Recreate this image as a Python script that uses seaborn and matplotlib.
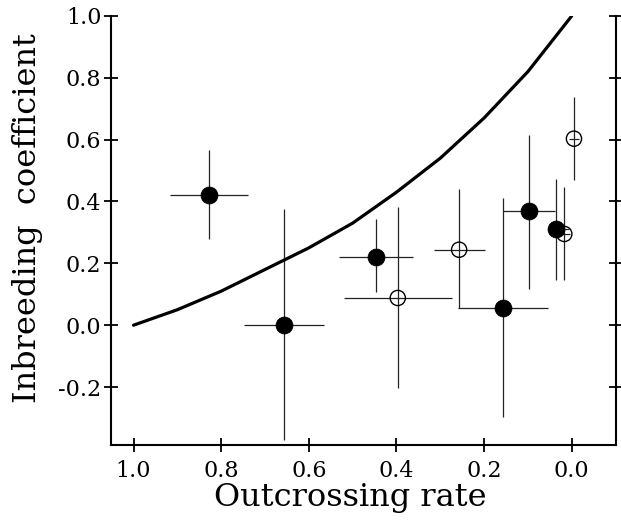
import numpy as np
import pandas as pd
import seaborn as sns
import matplotlib.pyplot as plt

# values
curve_t = [1.0, 0.9, 0.8, 0.7, 0.6, 0.5, 0.4, 0.3, 0.2, 0.1, 0.05, 0.0]
curve_F = [0.0, 0.05, 0.11, 0.18, 0.25, 0.33, 0.43, 0.54, 0.67, 0.82, 0.91, 1.0]

# filled symbols
filled_t = [0.827, 0.657, 0.446, 0.157, 0.097, 0.037]
filled_F = [0.422, 0.0, 0.222, 0.055, 0.368, 0.311]
filled_t_hi = [0.915, 0.748, 0.529, 0.260, 0.156, 0.068]
filled_t_lo = [0.738, 0.567, 0.362, 0.055, 0.038, 0.037]
filled_F_hi = [0.565, 0.376, 0.344, 0.412, 0.615, 0.474]
filled_F_lo = [0.279, -0.370, 0.106, -0.298, 0.117, 0.147]

# open symbols
open_t = [0.397, 0.257, 0.017, -0.005]
open_F = [0.088, 0.244, 0.295, 0.603]
open_t_hi = [0.520, 0.316, 0.029, 0.007]
open_t_lo = [0.274, 0.200, 0.005, -0.017]
open_F_hi = [0.382, 0.439, 0.446, 0.739]
open_F_lo = [-0.204, 0.055, 0.147, 0.468]

xticks = [1.0, 0.8, 0.6, 0.4, 0.2, 0.0]
yticks = [-0.2, 0.0, 0.2, 0.4, 0.6, 0.8, 1.0]

sns.set_style('ticks')
plt.rcParams['font.family'] = ['DejaVu Serif']

fig = plt.figure(figsize=(6.21, 5.3), dpi=100)
ax = fig.add_axes([0.179, 0.160, 0.813, 0.810])

# error bars
def bars(t, F, thi, tlo, Fhi, Flo):
    t = np.array(t); F = np.array(F)
    xerr = [np.array(thi) - t, t - np.array(tlo)]
    yerr = [F - np.array(Flo), np.array(Fhi) - F]
    ax.errorbar(t, F, xerr=xerr, yerr=yerr, fmt='none', ecolor='#222222',
                elinewidth=0.9, capsize=0, zorder=2)

bars(filled_t, filled_F, filled_t_hi, filled_t_lo, filled_F_hi, filled_F_lo)
bars(open_t, open_F, open_t_hi, open_t_lo, open_F_hi, open_F_lo)

# expected curve
curve = pd.DataFrame({'t': curve_t, 'F': curve_F})
sns.lineplot(data=curve, x='t', y='F', color='black', linewidth=2.3,
             sort=False, ax=ax, zorder=3)

filled = pd.DataFrame({'t': filled_t, 'F': filled_F})
opened = pd.DataFrame({'t': open_t, 'F': open_F})
sns.scatterplot(data=filled, x='t', y='F', s=150, color='black',
                edgecolor='black', linewidth=0.5, ax=ax, zorder=4)
sns.scatterplot(data=opened, x='t', y='F', s=120, facecolor='none',
                edgecolor='black', linewidth=1.0, ax=ax, zorder=4)

ax.set_xlim(1.051, -0.101)
ax.set_ylim(-0.388, 1.0)
ax.set_xticks(xticks)
ax.set_yticks(yticks)
ax.set_xticklabels([f'{v:.1f}' for v in xticks])
ax.set_yticklabels([f'{v:.1f}' for v in yticks])

for s in ['left', 'right', 'bottom']:
    ax.spines[s].set_linewidth(1.5)
    ax.spines[s].set_color('black')
ax.spines['top'].set_visible(False)
ax.tick_params(axis='both', direction='inout', length=10, width=1.3,
               labelsize=16, colors='black', right=True)
ax.tick_params(axis='x', pad=6)
ax.tick_params(axis='y', pad=2)

ax.set_xlabel('Outcrossing rate', fontsize=23, color='black')
ax.set_ylabel('Inbreeding  coefficient', fontsize=23, color='black')
ax.xaxis.set_label_coords(0.473, -0.085)
ax.yaxis.set_label_coords(-0.135, 0.53)

plt.savefig('out.png', dpi=100)
